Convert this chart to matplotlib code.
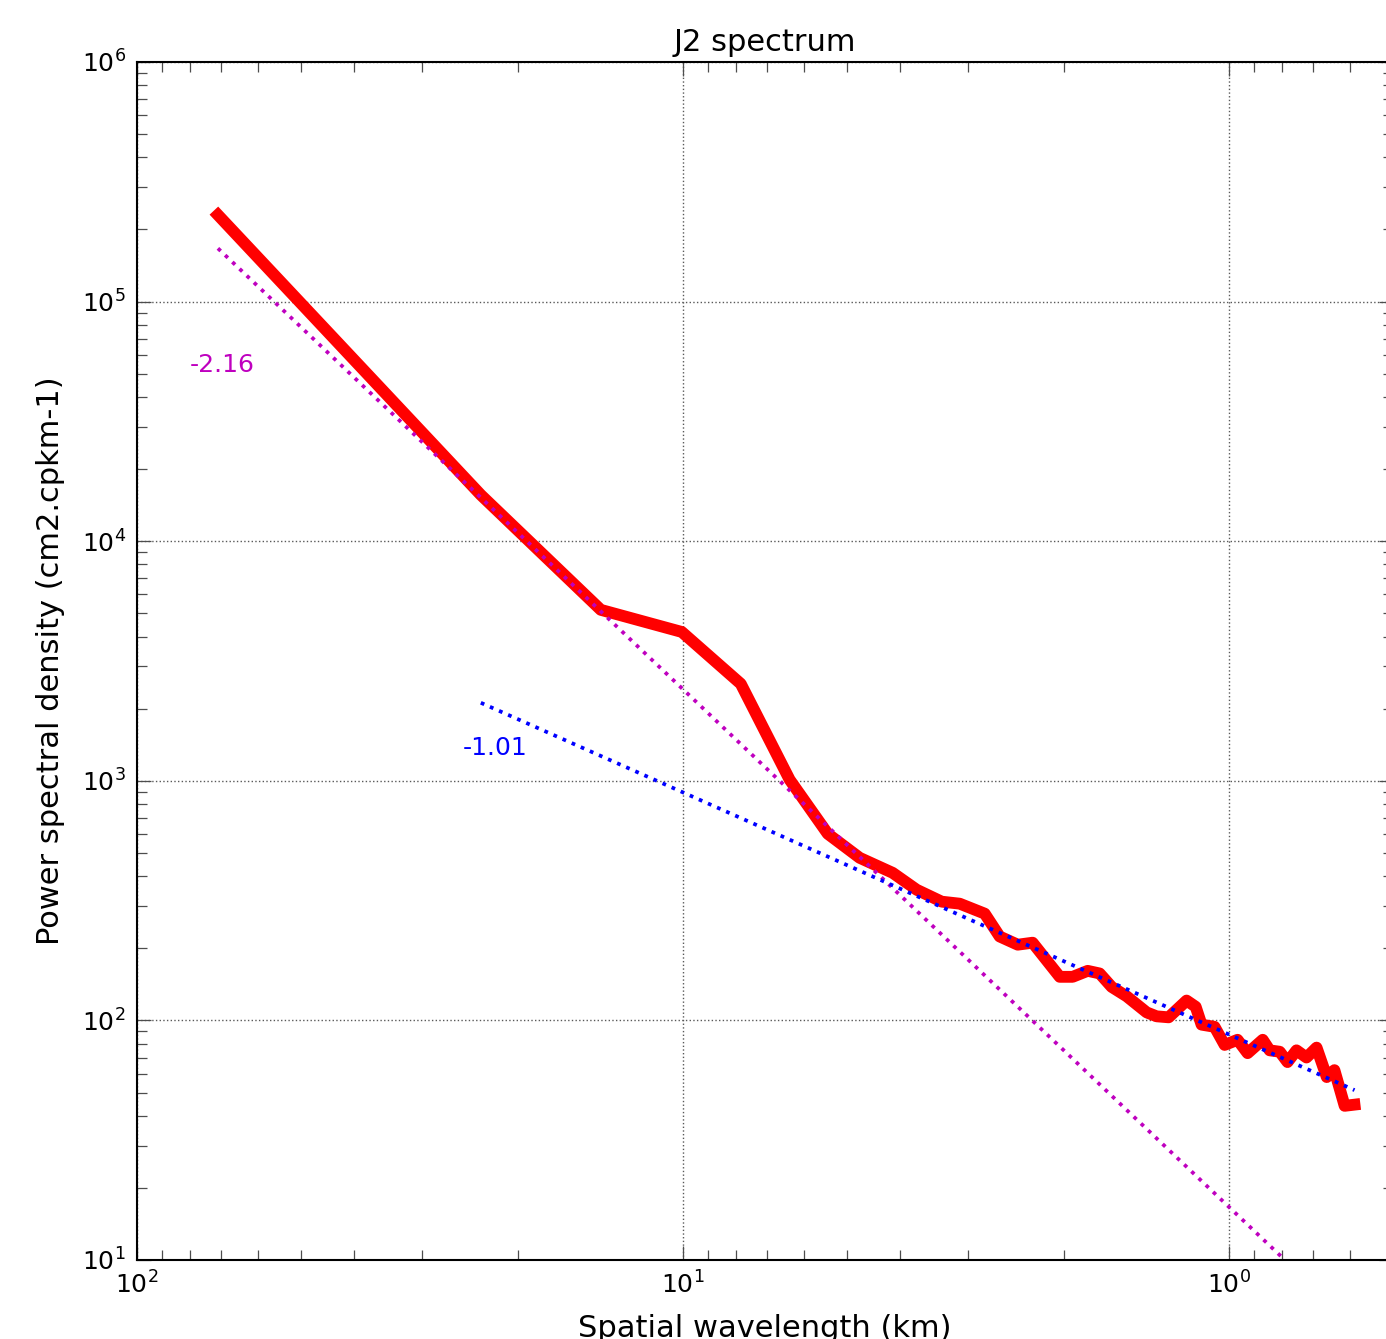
import numpy as np
import matplotlib
matplotlib.use("Agg")
import matplotlib.pyplot as plt

# Spectrum (wavelength in km, PSD in cm2.cpkm-1)
wavelength = [71.06, 23.44, 14.13, 10.04, 7.83, 6.37, 5.425, 4.741, 4.126, 3.728,
              3.354, 3.109, 2.798, 2.627, 2.434, 2.286, 2.039, 1.931, 1.812, 1.723,
              1.638, 1.537, 1.413, 1.355, 1.288, 1.194, 1.149, 1.121, 1.061, 1.017,
              0.963, 0.923, 0.866, 0.841, 0.806, 0.780, 0.751, 0.720, 0.690, 0.661,
              0.640, 0.613, 0.588]
psd = [2.30e5, 1.56e4, 5170, 4180, 2540, 1010, 601, 477, 413, 351,
       313, 307, 279, 224, 207, 211, 152, 152, 161, 157,
       138, 126, 108, 104, 103, 121, 114, 96, 94, 79,
       83, 73, 83, 75, 74, 67, 75, 70, 77, 58,
       62, 44, 44.5]

# Power-law fits: psd = amp * wavelength**(-slope)
slope_large = -2.16
amp_large = 16.7
slope_small = -1.01
amp_small = 87.5

lam = np.array(wavelength)
fit_large = amp_large * lam ** (-slope_large)
fit_small = amp_small * lam[1:] ** (-slope_small)

fig = plt.figure(figsize=(13.86, 13.39), dpi=100)
ax = fig.add_axes([0.0988, 0.0590, 0.9062, 0.8947])

ax.loglog(wavelength, psd, color="#ff0000", lw=8.5, solid_joinstyle="round")
ax.loglog(lam, fit_large, color="#bf00bf", ls=":", lw=2.7)
ax.loglog(lam[1:], fit_small, color="#0000ff", ls=":", lw=2.7)

ax.text(80, 5.1e4, "%.2f" % slope_large, color="#bf00bf", fontsize=18)
ax.text(25.3, 1280, "%.2f" % slope_small, color="#0000ff", fontsize=18)

ax.set_xlim(100, 0.5)
ax.set_ylim(10, 1e6)

ax.grid(True, which="major", color="0.35", ls=":", lw=1.0)
ax.tick_params(which="both", direction="in", top=True, right=True,
               labelsize=18, color="0.3")
ax.tick_params(which="major", length=10, width=0.9, pad=8)
ax.tick_params(which="minor", length=7, width=0.9)
for sp in ax.spines.values():
    sp.set_linewidth(1.5)

ax.set_title("J2 spectrum", fontsize=22, pad=8)
ax.set_xlabel("Spatial wavelength (km)", fontsize=22, labelpad=11)
ax.set_ylabel("Power spectral density (cm2.cpkm-1)", fontsize=22, labelpad=12)

plt.savefig("out.png", dpi=100)
